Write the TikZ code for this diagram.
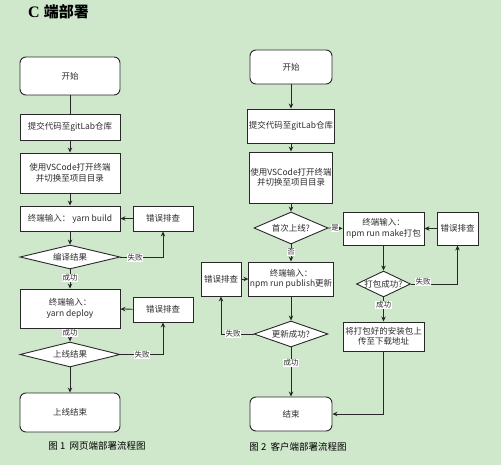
\documentclass[tikz,border=0pt]{standalone}
\usepackage{fontspec}
\setmainfont{Noto Sans CJK SC}
\newfontfamily\titleserif{Liberation Serif}
\usetikzlibrary{shapes.geometric,arrows.meta}
\definecolor{bggreen}{RGB}{207,232,204}
\definecolor{edgegray}{RGB}{40,40,40}
\definecolor{txtgray}{RGB}{45,45,45}
\tikzset{
  box/.style={draw=edgegray, line width=0.9pt, fill=white, inner sep=1pt, align=center,
    font=\fontsize{8.5}{10.5}\selectfont, text=txtgray},
  rbox/.style={box, rounded corners=6pt},
  dia/.style={draw=edgegray, line width=0.9pt, fill=white, diamond, inner sep=0pt},
  conn/.style={draw=edgegray, line width=0.8pt, -{Stealth[length=5pt,width=4.5pt]}},
  plain/.style={draw=edgegray, line width=0.8pt},
  lbl/.style={fill=white, inner sep=0.6pt, font=\fontsize{7.5}{8.5}\selectfont, text=txtgray},
  dtext/.style={font=\fontsize{8.5}{10.5}\selectfont, text=txtgray},
  captext/.style={font=\fontsize{9.5}{11}\selectfont, text=black}
}
\begin{document}
\begin{tikzpicture}[x=1pt,y=-1pt]
\fill[bggreen] (0,0) rectangle (501,465);
\useasboundingbox (0,0) rectangle (501,465);

\node[anchor=west, inner sep=0pt] (title) at (28,12) {\titleserif\bfseries\fontsize{16}{18}\selectfont C\ \fontspec{Noto Sans CJK SC Bold}\fontsize{15}{18}\selectfont 端部署};

% ---------- left chart ----------
\node[rbox, minimum width=100pt, minimum height=38pt] (L1) at (70,76) {开始};
\node[box, minimum width=100pt, minimum height=26pt] (L2) at (70,127) {提交代码至gitLab仓库};
\node[box, minimum width=100pt, minimum height=40pt] (L3) at (70,173) {使用VSCode打开终端\\并切换至项目目录};
\node[box, minimum width=100pt, minimum height=25pt] (L4) at (70,218.5) {终端输入：\ yarn build};
\node[box, minimum width=60pt, minimum height=25pt] (LE1) at (163,218.5) {错误排查};
\node[dia, minimum width=100pt, minimum height=24pt] (LD1) at (70,257) {};
\node[dtext] (LD1t) at (LD1.center) {编译结果};
\node[box, minimum width=100pt, minimum height=39pt] (L5) at (70,308.5) {终端输入：\\yarn deploy};
\node[box, minimum width=60pt, minimum height=25pt] (LE2) at (163,309.5) {错误排查};
\node[dia, minimum width=100pt, minimum height=25pt] (LD2) at (70,354.5) {};
\node[dtext] (LD2t) at (LD2.center) {上线结果};
\node[rbox, minimum width=100pt, minimum height=39pt] (L6) at (70,412.5) {上线结束};
\node[captext] (cap1) at (97,446) {图 1\ \ 网页端部署流程图};

\coordinate (c1) at (163,257);
\coordinate (c2) at (163,354.5);

\draw[plain] (L1) -- (L2);
\draw[conn] (L2) -- (L3);
\draw[conn] (L3) -- (L4);
\draw[conn] (LE1) -- (L4);
\draw[conn] (L4) -- (LD1.north);
\draw[conn] (LD1.east) -- (c1) -- (LE1.south);
\node[lbl] (lf1) at (135,258) {失败};
\draw[conn] (LD1.south) -- (L5.north);
\node[lbl] (ls1) at (70,278) {成功};
\draw[conn] (LE2) -- (L5);
\draw[conn] (L5.south) -- (LD2.north);
\node[lbl] (ls2) at (70,333) {成功};
\draw[conn] (LD2.east) -- (c2) -- (LE2.south);
\node[lbl] (lf2) at (142,355) {失败};
\draw[conn] (LD2.south) -- (L6.north);

% ---------- right chart ----------
\node[rbox, minimum width=82pt, minimum height=34pt] (R1) at (291,67) {开始};
\node[box, minimum width=82pt, minimum height=34pt] (R2) at (291,126) {提交代码至gitLab仓库};
\node[box, minimum width=82pt, minimum height=51pt] (R3) at (291,177.5) {使用VSCode打开终端\\并切换至项目目录};
\node[dia, minimum width=74pt, minimum height=32pt] (RD1) at (291,228) {};
\node[dtext] (RD1t) at (RD1.center) {首次上线?};
\node[box, minimum width=81pt, minimum height=33pt] (RM) at (383.5,228.5) {终端输入：\\npm run make打包};
\node[box, minimum width=41pt, minimum height=33pt] (RE1) at (457.5,228.5) {错误排查};
\node[box, minimum width=82pt, minimum height=34pt] (RP) at (291,279) {终端输入：\\npm run publish更新};
\node[box, minimum width=40pt, minimum height=34pt] (RE2) at (221,279) {错误排查};
\node[dia, minimum width=54pt, minimum height=26pt] (RD2) at (383.5,284) {};
\node[dtext] (RD2t) at (RD2.center) {打包成功?};
\node[box, minimum width=81pt, minimum height=29pt] (RU) at (383.5,336.5) {将打包好的安装包上\\传至下载地址};
\node[dia, minimum width=74pt, minimum height=26pt] (RD3) at (291,334) {};
\node[dtext] (RD3t) at (RD3.center) {更新成功?};
\node[rbox, minimum width=82pt, minimum height=34pt] (R6) at (291,414) {结束};
\node[captext] (cap2) at (298,447) {图 2\ \ 客户端部署流程图};

\coordinate (c3) at (457.5,284);
\coordinate (c4) at (383.5,414);
\coordinate (c5) at (221,334);

\draw[conn] (R1) -- (R2);
\draw[conn] (R2) -- (R3);
\draw[conn] (R3) -- (RD1.north);
\draw[conn] (RD1.east) -- (RM.west);
\node[lbl] (ry) at (335,228) {是};
\draw[conn] (RE1) -- (RM);
\draw[conn] (RD1.south) -- (RP.north);
\node[lbl] (rn) at (291,252) {否};
\draw[conn] (RM.south) -- (RD2.north);
\draw[conn] (RD2.east) -- (c3) -- (RE1.south);
\node[lbl] (rf1) at (423,282) {失败};
\draw[conn] (RD2.south) -- (RU.north);
\node[lbl] (rs1) at (383.5,305) {成功};
\draw[conn] (RU.south) -- (c4) -- (R6.east);
\draw[conn] (RE2) -- (RP);
\draw[conn] (RP.south) -- (RD3.north);
\draw[conn] (RD3.west) -- (c5) -- (RE2.south);
\node[lbl] (rf2) at (233,334) {失败};
\draw[conn] (RD3.south) -- (R6.north);
\node[lbl] (rs2) at (291,363) {成功};
\end{tikzpicture}
\end{document}
